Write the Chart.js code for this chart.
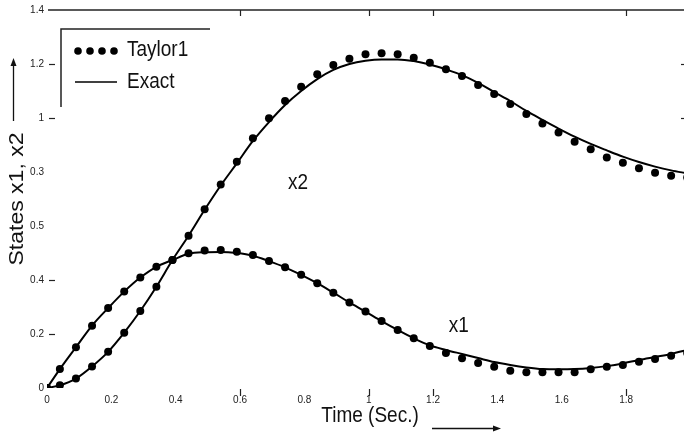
<!DOCTYPE html>
<html>
<head>
<meta charset="utf-8">
<script src="https://cdn.jsdelivr.net/npm/chart.js@4.4.1/dist/chart.umd.min.js"></script>
<style>
  html, body { margin: 0; padding: 0; background: #fff; }
  canvas { display: block; }
</style>
</head>
<body>
<canvas id="statesChart" width="688" height="436"></canvas>
<script>
// Time samples (Sec.)
const time = [0, 0.04, 0.09, 0.14, 0.19, 0.24, 0.29, 0.34, 0.39, 0.44,
  0.49, 0.54, 0.59, 0.64, 0.69, 0.74, 0.79, 0.84, 0.89, 0.94,
  0.99, 1.04, 1.09, 1.14, 1.19, 1.24, 1.29, 1.34, 1.39, 1.44,
  1.49, 1.54, 1.59, 1.64, 1.69, 1.74, 1.79, 1.84, 1.89, 1.94, 1.99];

// Taylor1 approximation (dots)
const taylorX1 = [0, 0.07, 0.151, 0.231, 0.296, 0.357, 0.409, 0.449, 0.474, 0.499,
  0.509, 0.511, 0.505, 0.493, 0.470, 0.447, 0.419, 0.388, 0.353, 0.317,
  0.283, 0.248, 0.215, 0.184, 0.156, 0.13, 0.11, 0.093, 0.079, 0.064,
  0.058, 0.058, 0.058, 0.058, 0.069, 0.079, 0.085, 0.097, 0.107, 0.119, 0.13];
const taylorX2 = [0, 0.01, 0.035, 0.08, 0.134, 0.205, 0.285, 0.375, 0.474, 0.564,
  0.662, 0.754, 0.838, 0.925, 0.999, 1.063, 1.116, 1.162, 1.196, 1.219,
  1.236, 1.240, 1.236, 1.223, 1.205, 1.181, 1.156, 1.122, 1.089, 1.052,
  1.015, 0.980, 0.946, 0.912, 0.884, 0.854, 0.834, 0.814, 0.797, 0.786, 0.78];

// Exact solution (solid line)
const exactX1 = [0, 0.07, 0.151, 0.231, 0.296, 0.357, 0.409, 0.449, 0.474, 0.497,
  0.503, 0.504, 0.5, 0.49, 0.47, 0.447, 0.419, 0.388, 0.353, 0.317,
  0.283, 0.248, 0.215, 0.184, 0.158, 0.141, 0.126, 0.111, 0.096, 0.085,
  0.076, 0.070, 0.069, 0.070, 0.074, 0.081, 0.091, 0.104, 0.115, 0.126, 0.141];
const exactX2 = [0, 0.01, 0.035, 0.08, 0.134, 0.205, 0.285, 0.375, 0.474, 0.564,
  0.66, 0.75, 0.832, 0.915, 0.985, 1.048, 1.10, 1.144, 1.178, 1.20,
  1.212, 1.217, 1.217, 1.211, 1.198, 1.18, 1.159, 1.13, 1.096, 1.063,
  1.026, 0.993, 0.961, 0.931, 0.904, 0.880, 0.857, 0.837, 0.820, 0.806, 0.795];

const seriesNames = ['Taylor1', 'Exact'];

// Axis ticks as printed on the figure
const xTickValues = [0, 0.2, 0.4, 0.6, 0.8, 1, 1.2, 1.4, 1.6, 1.8];
const xTickLabels = ['0', '0.2', '0.4', '0.6', '0.8', '1', '1.2', '1.4', '1.6', '1.8'];
const yTickValues = [0, 0.2, 0.4, 0.6, 0.8, 1, 1.2, 1.4];
const yTickLabels = ['0', '0.2', '0.4', '0.5', '0.3', '1', '1.2', '1.4'];

// Curve labels inside the plot
const curveLabels = [
  { text: 'x2', t: 0.78, v: 0.76 },
  { text: 'x1', t: 1.28, v: 0.23 }
];

const FONT = "'Liberation Sans', Arial, sans-serif";
const INK = '#111';

const pts = (ys) => time.map((t, i) => ({ x: t, y: ys[i] }));

// stretched text, the figure looks scaled vertically
function drawText(ctx, text, x, y, align, size) {
  ctx.save();
  ctx.translate(x, y);
  ctx.scale(1, 1.2);
  ctx.font = size + 'px ' + FONT;
  ctx.fillStyle = INK;
  ctx.textAlign = align;
  ctx.textBaseline = 'middle';
  ctx.fillText(text, 0, 0);
  ctx.restore();
}

function arrowHead(ctx, x, y, dir) {
  ctx.beginPath();
  if (dir === 'up') {
    ctx.moveTo(x, y);
    ctx.lineTo(x - 3, y + 8);
    ctx.lineTo(x + 3, y + 8);
  } else {
    ctx.moveTo(x, y);
    ctx.lineTo(x - 8, y - 3);
    ctx.lineTo(x - 8, y + 3);
  }
  ctx.closePath();
  ctx.fill();
}

const decorations = {
  id: 'decorations',
  afterDraw(chart) {
    const { ctx, chartArea: a, scales } = chart;
    const xs = scales.x, ys = scales.y;
    ctx.save();
    ctx.strokeStyle = '#222';
    ctx.fillStyle = '#222';
    ctx.lineWidth = 1.5;

    // top frame line
    ctx.beginPath();
    ctx.moveTo(a.left + 1, a.top);
    ctx.lineTo(a.right, a.top);
    ctx.stroke();

    // scattered tick marks
    ctx.lineWidth = 1.2;
    [0.6, 1, 1.2, 1.8].forEach(v => {
      const px = Math.round(xs.getPixelForValue(v)) + 0.5;
      ctx.beginPath();
      ctx.moveTo(px, a.top);
      ctx.lineTo(px, a.top + 6);
      ctx.moveTo(px, a.bottom + 1);
      ctx.lineTo(px, a.bottom + 8);
      ctx.stroke();
    });
    [0.2, 0.4, 1, 1.2].forEach(v => {
      const py = Math.round(ys.getPixelForValue(v)) + 0.5;
      ctx.beginPath();
      ctx.moveTo(a.left + 2, py);
      ctx.lineTo(a.left + 8, py);
      ctx.stroke();
    });
    [1, 1.2].forEach(v => {
      const py = Math.round(ys.getPixelForValue(v)) + 0.5;
      ctx.beginPath();
      ctx.moveTo(a.right - 3, py);
      ctx.lineTo(a.right, py);
      ctx.stroke();
    });

    // legend frame (left and top only)
    ctx.lineWidth = 1.5;
    ctx.beginPath();
    ctx.moveTo(61, 107);
    ctx.lineTo(61, 29);
    ctx.lineTo(210, 29);
    ctx.stroke();

    // legend entries
    ctx.fillStyle = '#000';
    for (let k = 0; k < 4; k++) {
      ctx.beginPath();
      ctx.arc(78 + k * 12, 51, 3.8, 0, Math.PI * 2);
      ctx.fill();
    }
    ctx.strokeStyle = '#000';
    ctx.lineWidth = 1.3;
    ctx.beginPath();
    ctx.moveTo(75, 82);
    ctx.lineTo(117, 82);
    ctx.stroke();
    drawText(ctx, seriesNames[0], 127, 50, 'left', 19);
    drawText(ctx, seriesNames[1], 127, 82, 'left', 19);

    // curve labels
    curveLabels.forEach(l => {
      drawText(ctx, l.text, xs.getPixelForValue(l.t), ys.getPixelForValue(l.v), 'center', 19);
    });

    // x axis title with arrow
    drawText(ctx, 'Time (Sec.)', 370, 416, 'center', 19);
    ctx.strokeStyle = '#111';
    ctx.fillStyle = '#111';
    ctx.lineWidth = 1.3;
    ctx.beginPath();
    ctx.moveTo(432, 428.5);
    ctx.lineTo(496, 428.5);
    ctx.stroke();
    arrowHead(ctx, 501, 428.5, 'right');

    // y axis title with arrow
    ctx.save();
    ctx.translate(17, 199);
    ctx.rotate(-Math.PI / 2);
    ctx.scale(1.15, 1);
    ctx.font = '20px ' + FONT;
    ctx.fillStyle = INK;
    ctx.textAlign = 'center';
    ctx.textBaseline = 'middle';
    ctx.fillText('States x1, x2', 0, 0);
    ctx.restore();
    ctx.beginPath();
    ctx.moveTo(13.5, 121);
    ctx.lineTo(13.5, 64);
    ctx.stroke();
    arrowHead(ctx, 13.5, 58, 'up');

    ctx.restore();
  }
};

const dotStyle = {
  showLine: false,
  pointRadius: 4,
  pointHoverRadius: 4,
  pointBackgroundColor: '#000',
  pointBorderWidth: 0,
  borderColor: '#000'
};
const lineStyle = {
  borderColor: '#000',
  borderWidth: 2,
  pointRadius: 0,
  cubicInterpolationMode: 'monotone',
  fill: false
};

new Chart(document.getElementById('statesChart'), {
  type: 'scatter',
  data: {
    datasets: [
      { label: seriesNames[0] + ' x1', data: pts(taylorX1), ...dotStyle },
      { label: seriesNames[0] + ' x2', data: pts(taylorX2), ...dotStyle },
      { label: seriesNames[1] + ' x1', data: pts(exactX1), showLine: true, ...lineStyle },
      { label: seriesNames[1] + ' x2', data: pts(exactX2), showLine: true, ...lineStyle }
    ]
  },
  options: {
    responsive: false,
    animation: false,
    layout: { padding: { top: 10, right: 0, left: 0, bottom: 0 } },
    plugins: { legend: { display: false }, tooltip: { enabled: false } },
    scales: {
      x: {
        type: 'linear',
        min: 0,
        max: 1.98,
        grid: { display: false, drawTicks: false },
        border: { display: false },
        afterBuildTicks: s => { s.ticks = xTickValues.map(v => ({ value: v })); },
        afterFit: s => { s.height = 48; },
        ticks: {
          padding: 6,
          maxRotation: 0,
          autoSkip: false,
          color: '#222',
          font: { family: FONT, size: 10 },
          callback: (v, i) => xTickLabels[i]
        }
      },
      y: {
        min: 0,
        max: 1.4,
        grid: { display: false, drawTicks: false },
        border: { display: false },
        afterBuildTicks: s => { s.ticks = yTickValues.map(v => ({ value: v })); },
        afterFit: s => { s.width = 47; },
        ticks: {
          padding: 3,
          autoSkip: false,
          color: '#222',
          font: { family: FONT, size: 10 },
          callback: (v, i) => yTickLabels[i]
        }
      }
    }
  },
  plugins: [decorations]
});
</script>
</body>
</html>
